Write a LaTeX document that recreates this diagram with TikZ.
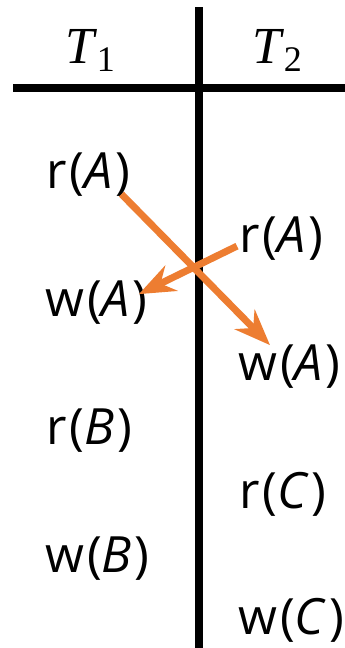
\documentclass[tikz,border=0pt]{standalone}
\usepackage{fontspec}
\setmainfont{Open Sans}
\newfontfamily\opfont[LetterSpace=6]{Open Sans}
\newfontfamily\mathserif{Liberation Serif}
\usetikzlibrary{arrows.meta}
\definecolor{conflict}{HTML}{ED7D31}
\tikzset{
  op/.style={anchor=base west, inner sep=0pt, font=\fontsize{50}{54}\selectfont\opfont},
  hdr/.style={anchor=base, inner sep=0pt, font=\fontsize{52}{56}\selectfont\mathserif},
  rule/.style={line width=8.5pt},
  dep/.style={conflict, line width=7pt, -{Stealth[length=36pt, width=28pt, inset=12pt]}}
}
\begin{document}
\begin{tikzpicture}[x=1pt,y=-1pt]
\useasboundingbox (0,0) rectangle (345,648);
\draw[rule] (13,88) -- (345,88);
\draw[rule] (199,7) -- (199,648);
\node[hdr] (t1) at (90,63) {\textit{T}\raisebox{-0.16em}{\fontsize{36}{40}\selectfont 1}};
\node[hdr] (t2) at (277,63) {\textit{T}\raisebox{-0.16em}{\fontsize{36}{40}\selectfont 2}};
\node[op] (rA1) at (46,188) {r(\textit{A})};
\node[op] (wA1) at (45,316) {w(\textit{A})};
\node[op] (rB1) at (46,444) {r(\textit{B})};
\node[op] (wB1) at (45,572) {w(\textit{B})};
\node[op] (rA2) at (239,252) {r(\textit{A})};
\node[op] (wA2) at (238,380) {w(\textit{A})};
\node[op] (rC2) at (239,508) {r(\textit{C})};
\node[op] (wC2) at (238,634) {w(\textit{C})};
\draw[dep] ([shift={(-9,-2)}]rA1.south east) -- ([shift={(32,1)}]wA2.north west);
\draw[dep] ([shift={(-2,8)}]rA2.west) -- ([shift={(-9,-8)}]wA1.east);
\end{tikzpicture}
\end{document}
